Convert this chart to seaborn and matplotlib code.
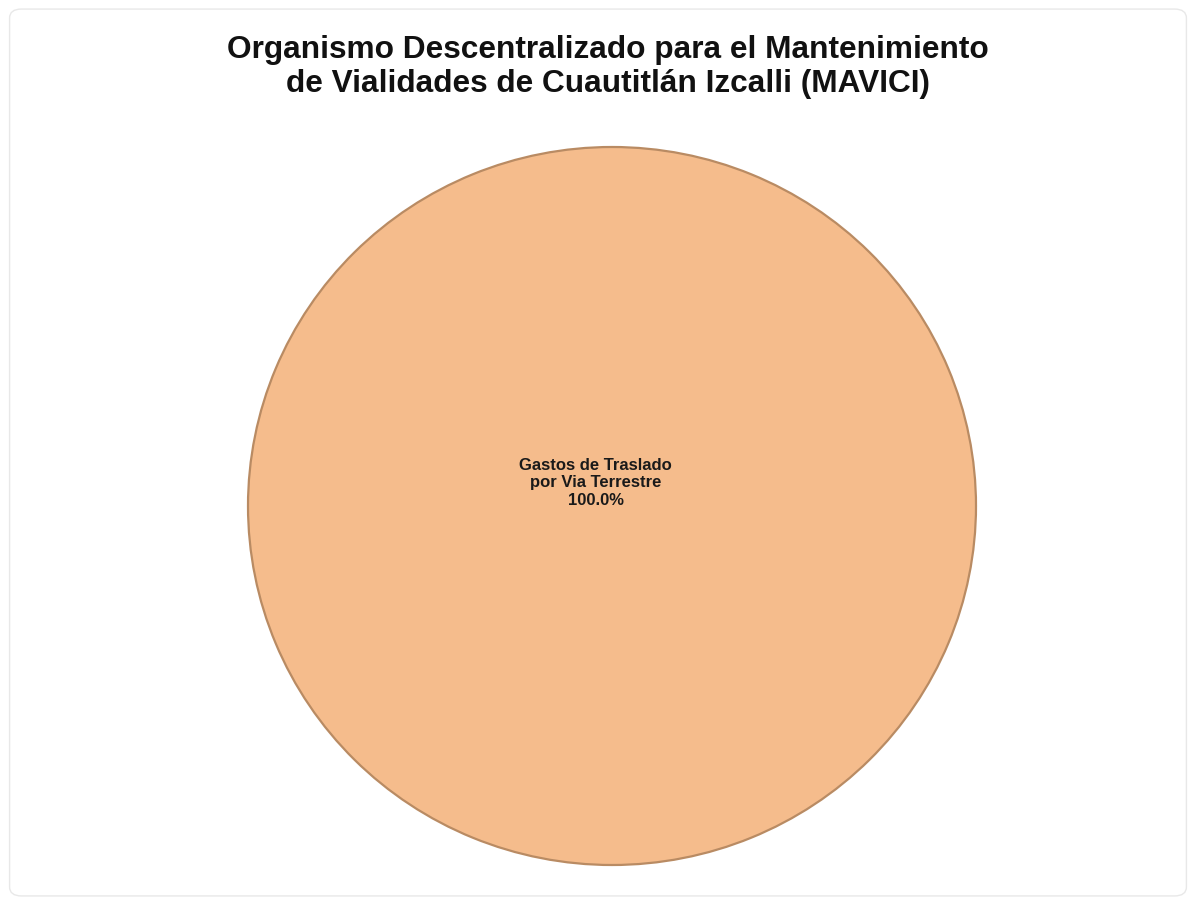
import matplotlib.pyplot as plt
import matplotlib.patches as mpatches
import seaborn as sns

title = 'Organismo Descentralizado para el Mantenimiento\nde Vialidades de Cuautitlán Izcalli (MAVICI)'
categories = ['Gastos de Traslado\npor Via Terrestre']
values = [100.0]
colors = ['#F5BC8C']


def main():
    sns.set_theme(style='white')
    plt.rcParams['font.family'] = ['Liberation Sans', 'DejaVu Sans']

    fig = plt.figure(figsize=(11.96, 9.05), dpi=100)
    fig.patch.set_facecolor('white')
    # light chart border
    fig.add_artist(mpatches.FancyBboxPatch((0.008, 0.01), 0.984, 0.98,
                                           boxstyle='round,pad=0,rounding_size=0.01',
                                           transform=fig.transFigure, fill=False,
                                           edgecolor='#E8E8E8', linewidth=1.0))

    # reference pie is slightly wider than tall, so keep aspect auto
    ax = fig.add_axes([248 / 1196, 40 / 905, 728 / 1196, 718 / 905])
    total = sum(values)
    labels = ['%s\n%.1f%%' % (c, v / total * 100) for c, v in zip(categories, values)]
    wedges, texts = ax.pie(values, colors=colors, radius=1.0, startangle=90,
                           wedgeprops=dict(edgecolor='#B98B63', linewidth=1.6))
    for w, lab in zip(wedges, labels):
        ax.text(-0.045, 0.065, lab, ha='center', va='center', fontsize=12,
                fontweight='bold', color='#1A1A1A', linespacing=1.2)
    ax.set_xlim(-1.0, 1.0)
    ax.set_ylim(-1.0, 1.0)
    ax.set_aspect('auto')
    ax.axis('off')

    fig.text(0.508, 0.926, title, ha='center', va='center', fontsize=22.8,
             fontweight='bold', color='#111111', linespacing=1.15)

    plt.savefig('out.png', dpi=100, facecolor='white')
    plt.close()


if __name__ == '__main__':
    main()
